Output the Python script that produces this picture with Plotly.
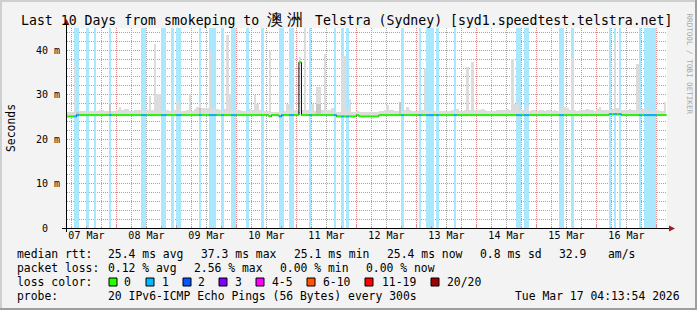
import plotly.graph_objects as go
import pandas as pd

# ---------------- data ----------------
BIN_START = "2026-03-07 04:00:00"      # first hourly consolidated bin
VIEW_START = "2026-03-07 04:13:54"
VIEW_END = "2026-03-17 04:13:54"
Y_MAX = 45                              # ms

# median rtt per hourly bin (ms), one row per 24 bins
median_ms = [
    25.1, 25.1, 25.1, 25.1, 25.4, 25.4, 25.4, 25.4, 25.4, 25.4, 25.4, 25.4, 25.4, 25.4, 25.4, 25.4, 25.4, 25.4, 25.4, 25.4, 25.4, 25.4, 25.4, 25.4,
    25.4, 25.4, 25.4, 25.4, 25.4, 25.4, 25.4, 25.4, 25.4, 25.4, 25.4, 25.4, 25.4, 25.4, 25.4, 25.4, 25.4, 25.4, 25.4, 25.4, 25.4, 25.4, 25.4, 25.4,
    25.4, 25.4, 25.4, 25.4, 25.4, 25.4, 25.4, 25.4, 25.4, 25.4, 25.4, 25.4, 25.4, 25.4, 25.4, 25.4, 25.4, 25.4, 25.4, 25.4, 25.4, 25.4, 25.4, 25.4,
    25.4, 25.4, 25.4, 25.4, 25.4, 25.4, 25.4, 25.4, 25.4, 25.1, 25.4, 25.4, 25.4, 25.1, 25.4, 25.4, 25.4, 25.4, 25.4, 25.4, 25.4, 37.3, 25.4, 25.4,
    25.4, 25.4, 25.4, 25.4, 25.4, 25.4, 25.4, 25.4, 25.4, 25.4, 25.4, 25.4, 25.1, 25.1, 25.1, 25.1, 25.1, 25.1, 25.1, 25.1, 25.4, 25.1, 25.1, 25.1,
    25.1, 25.1, 25.1, 25.1, 25.1, 25.4, 25.4, 25.4, 25.4, 25.4, 25.4, 25.4, 25.4, 25.4, 25.4, 25.4, 25.4, 25.4, 25.4, 25.4, 25.4, 25.4, 25.4, 25.4,
    25.4, 25.4, 25.4, 25.4, 25.4, 25.4, 25.4, 25.4, 25.4, 25.4, 25.4, 25.4, 25.4, 25.4, 25.4, 25.4, 25.4, 25.4, 25.4, 25.4, 25.4, 25.4, 25.4, 25.4,
    25.4, 25.4, 25.4, 25.4, 25.4, 25.4, 25.4, 25.4, 25.4, 25.4, 25.4, 25.4, 25.4, 25.4, 25.4, 25.4, 25.4, 25.4, 25.4, 25.4, 25.4, 25.4, 25.4, 25.4,
    25.4, 25.4, 25.4, 25.4, 25.4, 25.4, 25.4, 25.4, 25.4, 25.4, 25.4, 25.4, 25.4, 25.4, 25.4, 25.4, 25.4, 25.4, 25.4, 25.4, 25.4, 25.4, 25.4, 25.4,
    25.4, 25.6, 25.6, 25.6, 25.6, 25.6, 25.4, 25.4, 25.4, 25.4, 25.4, 25.4, 25.4, 25.4, 25.4, 25.4, 25.4, 25.4, 25.4, 25.4, 25.4, 25.4, 25.4, 25.4,
]

# smoke (ping spread) lower / upper edge per bin (ms)
smoke_low = [
    24.9, 24.9, 24.9, 24.9, 25.2, 25.2, 25.2, 25.2, 25.2, 25.2, 25.2, 25.2, 25.2, 25.2, 25.2, 25.2, 25.2, 25.2, 25.2, 25.2, 25.2, 25.2, 25.2, 25.2,
    25.2, 25.2, 25.2, 25.2, 25.2, 25.2, 25.2, 25.2, 25.2, 25.2, 25.2, 25.2, 25.2, 25.2, 25.2, 25.2, 25.2, 25.2, 25.2, 25.2, 25.2, 25.2, 25.2, 25.2,
    25.2, 25.2, 25.2, 25.2, 25.2, 25.2, 25.2, 25.2, 25.2, 25.2, 25.2, 25.2, 25.2, 25.2, 25.2, 25.2, 25.2, 25.2, 25.2, 25.2, 25.2, 25.2, 25.2, 25.2,
    25.2, 25.2, 25.2, 25.2, 25.2, 25.2, 25.2, 25.2, 25.2, 24.9, 25.2, 25.2, 25.2, 24.9, 25.2, 25.2, 25.2, 25.2, 25.2, 25.2, 25.2, 37.0, 25.2, 25.2,
    25.2, 25.2, 25.2, 25.2, 25.2, 25.2, 25.2, 25.2, 25.2, 25.2, 25.2, 25.2, 24.9, 24.9, 24.9, 24.9, 24.9, 24.9, 24.9, 24.9, 25.2, 24.9, 24.9, 24.9,
    24.9, 24.9, 24.9, 24.9, 24.9, 25.2, 25.2, 25.2, 25.2, 25.2, 25.2, 25.2, 25.2, 25.2, 25.2, 25.2, 25.2, 25.2, 25.2, 25.2, 25.2, 25.2, 25.2, 25.2,
    25.2, 25.2, 25.2, 25.2, 25.2, 25.2, 25.2, 25.2, 25.2, 25.2, 25.2, 25.2, 25.2, 25.2, 25.2, 25.2, 25.2, 25.2, 25.2, 25.2, 25.2, 25.2, 25.2, 25.2,
    25.2, 25.2, 25.2, 25.2, 25.2, 25.2, 25.2, 25.2, 25.2, 25.2, 25.2, 25.2, 25.2, 25.2, 25.2, 25.2, 25.2, 25.2, 25.2, 25.2, 25.2, 25.2, 25.2, 25.2,
    25.2, 25.2, 25.2, 25.2, 25.2, 25.2, 25.2, 25.2, 25.2, 25.2, 25.2, 25.2, 25.2, 25.2, 25.2, 25.2, 25.2, 25.2, 25.2, 25.2, 25.2, 25.2, 25.2, 25.2,
    25.2, 25.2, 25.2, 25.2, 25.2, 25.2, 25.2, 25.2, 25.2, 25.2, 25.2, 25.2, 25.2, 25.2, 25.2, 25.2, 25.2, 25.2, 25.2, 25.2, 25.2, 25.2, 25.2, 25.2,
]
smoke_top = [
    26.0, 26.0, 26.0, 37.4, 26.0, 26.3, 26.3, 26.3, 26.4, 26.3, 26.3, 26.3, 26.4, 26.6, 26.5, 26.4, 26.4, 27.9, 26.4, 26.3, 26.6, 27.2, 26.5, 26.7,
    26.8, 26.4, 26.3, 26.6, 26.6, 26.6, 26.5, 26.4, 26.6, 29.7, 26.5, 41.4, 30.2, 30.2, 26.4, 26.3, 26.5, 26.4, 26.3, 26.6, 28.6, 26.8, 26.4, 26.3,
    26.5, 30.2, 26.4, 26.8, 27.2, 28.3, 27.0, 27.0, 26.9, 39.7, 26.9, 26.7, 26.8, 26.5, 26.3, 26.7, 43.4, 30.1, 26.6, 26.4, 26.5, 26.5, 26.4, 26.4,
    26.4, 26.8, 26.6, 30.0, 28.0, 26.5, 26.3, 26.4, 26.3, 39.8, 26.1, 26.1, 26.1, 26.1, 26.2, 26.4, 28.0, 26.7, 26.7, 26.6, 26.6, 38.5, 26.5, 47.0,
    26.6, 26.4, 28.0, 26.4, 31.7, 31.7, 26.6, 39.2, 26.5, 26.5, 26.9, 26.4, 26.0, 26.0, 38.7, 38.7, 26.5, 29.0, 26.0, 26.0, 26.3, 26.0, 26.0, 26.0,
    26.0, 26.0, 26.0, 26.0, 26.1, 26.3, 26.3, 26.6, 27.7, 26.6, 26.5, 26.4, 26.4, 28.3, 26.4, 26.6, 27.2, 26.5, 26.4, 26.3, 26.3, 26.4, 26.5, 36.0,
    26.3, 26.3, 26.4, 26.3, 26.3, 26.4, 26.3, 26.3, 26.4, 26.4, 26.5, 26.4, 26.7, 26.3, 26.4, 26.5, 36.2, 26.5, 37.4, 26.5, 26.5, 26.6, 26.7, 26.5,
    26.4, 26.4, 26.4, 26.4, 26.6, 26.5, 26.5, 26.6, 26.7, 26.6, 38.0, 28.0, 28.0, 26.5, 26.5, 26.4, 27.4, 26.4, 26.5, 26.5, 26.4, 26.6, 26.5, 26.4,
    26.5, 26.6, 26.4, 26.5, 26.4, 26.5, 27.4, 27.2, 27.0, 26.6, 38.2, 26.5, 26.4, 26.6, 26.5, 26.6, 26.7, 26.6, 26.5, 26.4, 26.8, 27.2, 26.6, 26.5,
    26.5, 26.6, 26.7, 42.0, 26.9, 26.7, 26.6, 26.6, 26.6, 26.7, 26.6, 26.5, 36.8, 26.7, 26.8, 26.6, 26.5, 26.5, 26.4, 26.4, 26.5, 26.4, 26.4, 28.3,
]
# darker inner smoke on a few bins
mid_bins = [4, 17, 53, 100, 101, 133]
mid_top = [26.1, 27.9, 27.0, 28.0, 28.0, 28.3]

# bins with packet loss (light-blue background)
loss_bins = [3, 4, 8, 11, 17, 30, 31, 38, 39, 42, 44, 45, 53, 57, 58, 59, 62, 66, 67, 72, 78,
             85, 86, 89, 90, 97, 107, 110, 112, 134, 141, 144, 145, 146, 148, 155, 180, 181,
             183, 184, 197, 198, 202, 217, 219, 221, 229, 231, 232, 233, 234, 235]
# loss bins whose median is still drawn in the "0" colour
loss_green_bins = [8, 11, 42, 72, 78, 202]

y_tick_vals = [0, 10, 20, 30, 40]
y_tick_text = ["0\u00a0\u00a0", "10 m", "20 m", "30 m", "40 m"]

title_pre = "Last 10 Days from smokeping to "
title_cjk = "澳洲"
title_post = " Telstra (Sydney) [syd1.speedtest.telstra.net]"
rtt_label = "median rtt:"
rtt_items = ["25.4 ms avg", "37.3 ms max", "25.1 ms min", "25.4 ms now", "0.8 ms sd", "32.9", "am/s"]
loss_label = "packet loss:"
loss_items = ["0.12 % avg", "2.56 % max", "0.00 % min", "0.00 % now"]
color_label = "loss color:"
loss_color_names = ["0", "1", "2", "3", "4-5", "6-10", "11-19", "20/20"]
loss_color_values = ["#26ff00", "#00b8ff", "#0059ff", "#7e00ff", "#ff00ff", "#ff5500", "#ff0000", "#a10000"]
probe_label = "probe:"
probe_text = "20 IPv6-ICMP Echo Pings (56 Bytes) every 300s"
stamp_text = "Tue Mar 17 04:13:54 2026"
watermark_text = "RRDTOOL / TOBI OETIKER"

# ---------------- layout constants (pixels) ----------------
W, H = 697, 310
PL, PR, PT, PB = 67, 667, 28, 228
MONO = "DejaVu Sans Mono"
LEG_FS = 11.4
line_y = [254, 268, 282, 296]
rtt_x = [107, 200, 293, 386, 479, 558, 607]
loss_x = [107, 193, 279, 365]
swatch_x = [109, 146, 183, 219, 256, 307, 365, 431]
name_x = [123, 161, 197, 234, 271, 322, 381, 446]


def fx(px):
    return (px - PL) / (PR - PL)


def fy(py):
    return (PB - py) / (PB - PT)


HOUR_MS = 3600 * 1000
t0 = pd.Timestamp(BIN_START)
n = len(median_ms)
starts = [t0 + pd.Timedelta(hours=k) for k in range(n)]
centers = [s + pd.Timedelta(minutes=30) for s in starts]

fig = go.Figure()

# loss background
fig.add_trace(go.Bar(
    x=[centers[k] for k in loss_bins], y=[Y_MAX] * len(loss_bins), base=0,
    width=HOUR_MS, marker=dict(color="#aae8ff", line=dict(width=0)), hoverinfo="skip"))

# smoke
fig.add_trace(go.Bar(
    x=centers, y=[t - l for t, l in zip(smoke_top, smoke_low)], base=smoke_low,
    width=HOUR_MS, marker=dict(color="#dcdcdc", line=dict(width=0)), hoverinfo="skip"))
fig.add_trace(go.Bar(
    x=[centers[k] for k in mid_bins], y=[m - smoke_low[k] for k, m in zip(mid_bins, mid_top)],
    base=[smoke_low[k] for k in mid_bins],
    width=HOUR_MS, marker=dict(color="#c6c6c6", line=dict(width=0)), hoverinfo="skip"))

# median: black step underneath
fig.add_trace(go.Scatter(
    x=starts + [starts[-1] + pd.Timedelta(hours=1)], y=median_ms + [median_ms[-1]],
    mode="lines", line=dict(color="black", width=1, shape="hv"), hoverinfo="skip"))

# median coloured by loss
seg = {0: ([], []), 1: ([], [])}
for k in range(n):
    lvl = 1 if (k in loss_bins and k not in loss_green_bins) else 0
    xs, ys = seg[lvl]
    xs += [starts[k], starts[k] + pd.Timedelta(hours=1), None]
    ys += [median_ms[k], median_ms[k], None]
for lvl in (0, 1):
    fig.add_trace(go.Scatter(
        x=seg[lvl][0], y=seg[lvl][1], mode="lines",
        line=dict(color=loss_color_values[lvl], width=2), hoverinfo="skip"))

GRID_MINOR = "#a6a6a6"
GRID_MAJOR = "#de8a8a"
DASH = "1px,1px"

fig.update_layout(
    width=W, height=H,
    margin=dict(l=PL, r=W - PR, t=PT, b=H - PB),
    paper_bgcolor="#f3f3f3", plot_bgcolor="white",
    showlegend=False, barmode="overlay", bargap=0,
    xaxis=dict(
        type="date", range=[VIEW_START, VIEW_END],
        tick0="2026-03-07", dtick=86400000, tickformat="%d %b", ticklabelmode="period",
        showgrid=True, gridcolor=GRID_MAJOR, griddash=DASH, gridwidth=1,
        zeroline=False, showline=False,
        ticks="inside", ticklen=3, tickcolor=GRID_MAJOR, tickwidth=1,
        tickfont=dict(family=MONO, size=10, color="black"),
        minor=dict(dtick=21600000, tick0="2026-03-07", showgrid=True,
                   gridcolor=GRID_MINOR, griddash=DASH, gridwidth=1,
                   ticks="inside", ticklen=2, tickcolor=GRID_MINOR),
        fixedrange=True,
    ),
    yaxis=dict(
        range=[0, Y_MAX], tickmode="array", tickvals=y_tick_vals, ticktext=y_tick_text,
        showgrid=True, gridcolor=GRID_MAJOR, griddash=DASH, gridwidth=1,
        zeroline=False, showline=False, ticks="", ticklabelstandoff=6,
        tickfont=dict(family=MONO, size=10, color="black"),
        minor=dict(dtick=2, tick0=0, showgrid=True, gridcolor=GRID_MINOR, griddash=DASH, gridwidth=1),
        fixedrange=True,
    ),
)

shapes = []
# frame
shapes += [
    dict(type="rect", xref="paper", yref="paper", x0=fx(0), x1=fx(W), y0=fy(0), y1=fy(2),
         fillcolor="#cfcfcf", line=dict(width=0), layer="below"),
    dict(type="rect", xref="paper", yref="paper", x0=fx(0), x1=fx(2), y0=fy(0), y1=fy(H),
         fillcolor="#cfcfcf", line=dict(width=0), layer="below"),
    dict(type="rect", xref="paper", yref="paper", x0=fx(0), x1=fx(W), y0=fy(H - 2), y1=fy(H),
         fillcolor="#9e9e9e", line=dict(width=0), layer="below"),
    dict(type="rect", xref="paper", yref="paper", x0=fx(W - 2), x1=fx(W), y0=fy(0), y1=fy(H),
         fillcolor="#9e9e9e", line=dict(width=0), layer="below"),
]
# axes
shapes += [
    dict(type="line", xref="paper", yref="paper", x0=fx(66.5), x1=fx(66.5), y0=fy(232), y1=fy(23),
         line=dict(color="black", width=1)),
    dict(type="line", xref="paper", yref="paper", x0=fx(62), x1=fx(670), y0=fy(228.5), y1=fy(228.5),
         line=dict(color="black", width=1)),
    dict(type="path", xref="paper", yref="paper",
         path=f"M {fx(66.5)},{fy(19)} L {fx(63.5)},{fy(25)} L {fx(69.5)},{fy(25)} Z",
         fillcolor="#9b1c1c", line=dict(width=0)),
    dict(type="path", xref="paper", yref="paper",
         path=f"M {fx(675)},{fy(228.5)} L {fx(669)},{fy(225.5)} L {fx(669)},{fy(231.5)} Z",
         fillcolor="#9b1c1c", line=dict(width=0)),
]
# loss colour swatches
for sx, col in zip(swatch_x, loss_color_values):
    shapes.append(dict(type="rect", xref="paper", yref="paper",
                       x0=fx(sx), x1=fx(sx + 8), y0=fy(line_y[2] + 4), y1=fy(line_y[2] - 4),
                       fillcolor=col, line=dict(color="black", width=1)))
fig.update_layout(shapes=shapes)


def txt(x, y, s, size=LEG_FS, anchor="left", color="black", angle=0, yanchor="middle"):
    return dict(x=fx(x), y=fy(y), xref="paper", yref="paper", text=s, showarrow=False,
                xanchor=anchor, yanchor=yanchor, borderpad=0, textangle=angle,
                font=dict(family=MONO, size=size, color=color))


ann = []
ann.append(txt(20, 19, title_pre
               + f'<span style="font-size:16px;letter-spacing:4px">{title_cjk}</span>'
               + title_post, size=13.2))
ann.append(txt(11, 128, "Seconds", angle=-90, anchor="center"))
ann.append(txt(689.5, 64, watermark_text, size=7.6, anchor="center", color="#a8a8a8", angle=90))
ann.append(txt(16, line_y[0], rtt_label))
for x, s in zip(rtt_x, rtt_items):
    ann.append(txt(x, line_y[0], s))
ann.append(txt(16, line_y[1], loss_label))
for x, s in zip(loss_x, loss_items):
    ann.append(txt(x, line_y[1], s))
ann.append(txt(16, line_y[2], color_label))
for x, s in zip(name_x, loss_color_names):
    ann.append(txt(x, line_y[2], s))
ann.append(txt(16, line_y[3], probe_label))
ann.append(txt(107, line_y[3], probe_text))
ann.append(txt(681, line_y[3], stamp_text, anchor="right"))
fig.update_layout(annotations=ann)

fig.write_html("out.html")
